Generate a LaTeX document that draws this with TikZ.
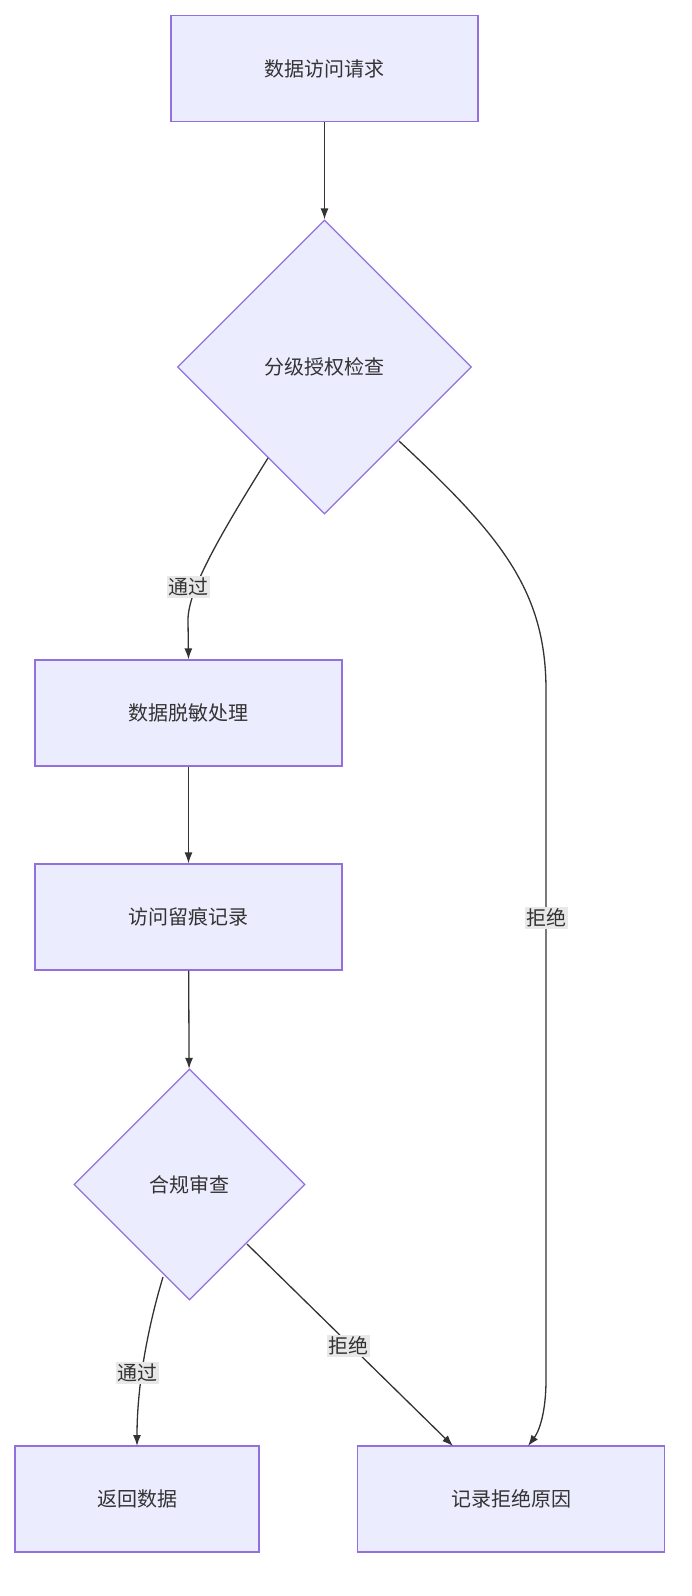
\documentclass[tikz,border=0pt]{standalone}
\usepackage{fontspec}
\setmainfont{Noto Sans CJK SC}
\usetikzlibrary{shapes.geometric,arrows.meta}
\definecolor{nf}{HTML}{ECECFF}\definecolor{ns}{HTML}{9370DB}
\definecolor{ln}{HTML}{333333}\definecolor{lb}{HTML}{E8E8E8}
\begin{document}
\begin{tikzpicture}[x=1pt,y=-1pt,
 box/.style={draw=ns,fill=nf,line width=1.2pt,minimum width=307pt,minimum height=106pt,font=\fontsize{20}{24}\selectfont,text=ln},
 dia/.style={draw=ns,fill=nf,line width=1.2pt,diamond,inner sep=0pt,font=\fontsize{20}{24}\selectfont,text=ln},
 e/.style={draw=ln,line width=1.3pt,-{Latex[length=11pt,width=8pt]}},
 lab/.style={fill=lb,inner sep=1.5pt,font=\fontsize{20}{24}\selectfont,text=ln}]
\useasboundingbox (0,0) rectangle (692,1596);
\node[box] (a) at (324.5,68.5) {数据访问请求};
\node[dia,minimum width=294pt,minimum height=294pt] (d1) at (324.5,367) {分级授权检查};
\node[box] (b) at (188.5,713) {数据脱敏处理};
\node[box] (c) at (188.5,917) {访问留痕记录};
\node[dia,minimum width=231pt,minimum height=231pt] (d2) at (189.5,1184.5) {合规审查};
\node[box,minimum width=244pt] (r) at (137,1499) {返回数据};
\node[box] (x) at (511,1499) {记录拒绝原因};
\draw[e] (a) -- (d1);
\draw[e] (268,458) .. controls (220,535) and (188,590) .. (188,620) -- (b.north);
\draw[e] (399,441) .. controls (500,535) and (546,590) .. (546,690) -- (546,1380) .. controls (546,1410) and (540,1430) .. (528,1446);
\draw[e] (b) -- (c);
\draw[e] (c) -- (d2);
\draw[e] (163,1277) .. controls (150,1320) and (137,1380) .. (137,1446);
\draw[e] (247,1244) -- (453,1446);
\node[lab] (l1) at (188,587) {通过};
\node[lab] (l2) at (546,918) {拒绝};
\node[lab] (l3) at (348,1346) {拒绝};
\node[lab] (l4) at (137,1373) {通过};
\end{tikzpicture}
\end{document}
